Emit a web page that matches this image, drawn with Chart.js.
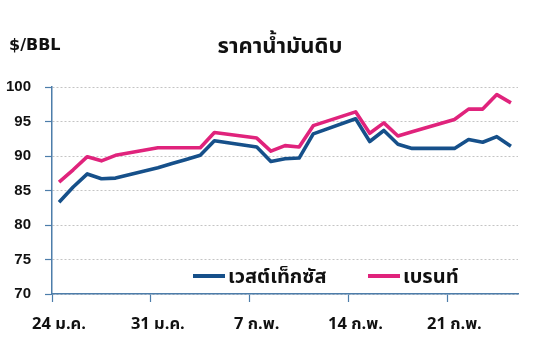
<!DOCTYPE html>
<html>
<head>
<meta charset="utf-8">
<script src="https://cdn.jsdelivr.net/npm/chart.js@4/dist/chart.umd.min.js"></script>
<style>
  html, body { margin: 0; padding: 0; background: #ffffff; }
  #wrap { width: 551px; height: 361px; position: relative; }
</style>
</head>
<body>
<div id="wrap"><canvas id="c" width="551" height="361"></canvas></div>
<script>
// ---- data ----
const startDate = '2011-01-24';
const endDate = '2011-02-26';
const tradeDates = ['2011-01-24','2011-01-25','2011-01-26','2011-01-27','2011-01-28',
  '2011-01-31','2011-02-01','2011-02-02','2011-02-03','2011-02-04',
  '2011-02-07','2011-02-08','2011-02-09','2011-02-10','2011-02-11',
  '2011-02-14','2011-02-15','2011-02-16','2011-02-17','2011-02-18',
  '2011-02-21','2011-02-22','2011-02-23','2011-02-24','2011-02-25'];
const wti = [83.3, 85.5, 87.4, 86.7, 86.8,
  88.3, 88.9, 89.5, 90.1, 92.2,
  91.3, 89.2, 89.6, 89.7, 93.2,
  95.4, 92.1, 93.7, 91.7, 91.1,
  91.1, 92.4, 92.0, 92.8, 91.4];
const brent = [86.2, 88.0, 89.9, 89.3, 90.1,
  91.2, 91.2, 91.2, 91.2, 93.4,
  92.6, 90.7, 91.5, 91.3, 94.4,
  96.4, 93.3, 94.8, 92.9, 93.5,
  95.3, 96.8, 96.8, 98.9, 97.7];
const tickDates = ['2011-01-24','2011-01-31','2011-02-07','2011-02-14','2011-02-21'];
const tickLabels = ['24 ม.ค.', '31 ม.ค.', '7 ก.พ.', '14 ก.พ.', '21 ก.พ.'];
const seriesNames = ['เวสต์เท็กซัส', 'เบรนท์'];
const titleText = 'ราคาน้ำมันดิบ';
const unitText = '$/BBL';
const yMin = 70, yMax = 100, yStep = 5;

// ---- helpers ----
const DAY = 86400000;
const dayIndex = d => (Date.parse(d + 'T00:00:00Z') - Date.parse(startDate + 'T00:00:00Z')) / DAY;
const totalDays = dayIndex(endDate);
const toPoints = vals => vals.map((v, i) => ({ x: dayIndex(tradeDates[i]) + 0.5, y: v }));
const tickValues = tickDates.map(dayIndex);

const AXIS = '#4d7daa';
const BLUE = '#16508a';
const PINK = '#e0237c';
const THAI = "'Noto Sans Thai', 'Noto Sans Thai Looped', 'Loma', 'Garuda', 'Noto Sans', sans-serif";
const LAT = "'Liberation Sans', Arial, sans-serif";

const decor = {
  id: 'decor',
  afterDraw(chart) {
    const ctx = chart.ctx;
    ctx.save();
    // unit label
    ctx.fillStyle = '#111';
    ctx.font = "bold 16px 'DejaVu Sans', " + LAT;
    ctx.textAlign = 'left';
    ctx.textBaseline = 'middle';
    ctx.fillText(unitText, 9, 46);
    // title
    ctx.font = 'bold 22px ' + THAI;
    ctx.textAlign = 'center';
    ctx.textBaseline = 'alphabetic';
    ctx.fillText(titleText, 280, 53);
    // legend
    const items = [
      { x: 193, color: BLUE, text: seriesNames[0] },
      { x: 368, color: PINK, text: seriesNames[1] }
    ];
    items.forEach(it => {
      ctx.strokeStyle = it.color;
      ctx.lineWidth = 4;
      ctx.lineCap = 'butt';
      ctx.beginPath();
      ctx.moveTo(it.x, 276);
      ctx.lineTo(it.x + 32, 276);
      ctx.stroke();
      ctx.fillStyle = '#111';
      ctx.font = 'bold 20px ' + THAI;
      ctx.textAlign = 'left';
      ctx.textBaseline = 'alphabetic';
      ctx.fillText(it.text, it.x + 35, 283);
    });
    ctx.restore();
  }
};

new Chart(document.getElementById('c'), {
  type: 'line',
  data: {
    datasets: [
      { label: seriesNames[0], data: toPoints(wti), borderColor: BLUE, backgroundColor: BLUE,
        borderWidth: 3.6, pointRadius: 0, tension: 0, borderJoinStyle: 'round' },
      { label: seriesNames[1], data: toPoints(brent), borderColor: PINK, backgroundColor: PINK,
        borderWidth: 3.6, pointRadius: 0, tension: 0, borderJoinStyle: 'round' }
    ]
  },
  options: {
    responsive: false,
    animation: false,
    devicePixelRatio: 1,
    layout: { padding: { left: 0, right: 33, top: 87, bottom: 0 } },
    plugins: { legend: { display: false }, title: { display: false }, tooltip: { enabled: false } },
    scales: {
      x: {
        type: 'linear',
        min: 0,
        max: totalDays,
        afterBuildTicks: s => { s.ticks = tickValues.map(v => ({ value: v })); },
        afterFit: s => { s.height = 67; },
        ticks: {
          autoSkip: false,
          maxRotation: 0,
          callback: (v) => { const i = tickValues.indexOf(v); return i >= 0 ? tickLabels[i] : ''; },
          font: { family: THAI, size: 16.5, weight: 'bold' },
          color: '#111',
          labelOffset: 7,
          padding: 14
        },
        grid: { drawOnChartArea: false, drawTicks: true, tickLength: 8, tickColor: AXIS, tickWidth: 1.2 },
        border: { color: AXIS, width: 1.5 }
      },
      y: {
        min: yMin,
        max: yMax,
        afterFit: s => { s.width = 52; },
        ticks: {
          stepSize: yStep,
          font: { family: LAT, size: 15, weight: 'bold' },
          color: '#111',
          padding: 14
        },
        grid: { color: '#c4c4c4', lineWidth: 1, drawTicks: true, tickLength: 7, tickColor: AXIS,
                tickWidth: 1.2, tickBorderDash: [] },
        border: { color: AXIS, width: 1.5, dash: [2, 2] }
      }
    }
  },
  plugins: [decor]
});
</script>
</body>
</html>
